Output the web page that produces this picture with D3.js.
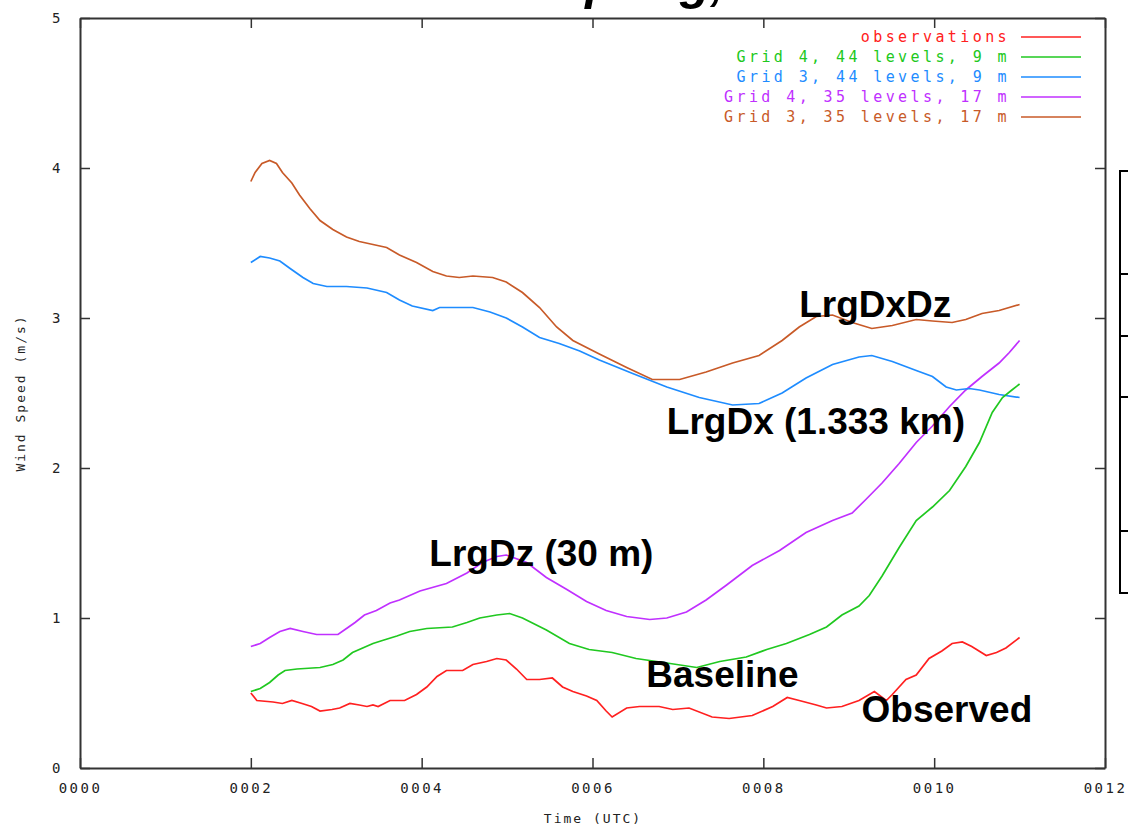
<!DOCTYPE html>
<html>
<head>
<meta charset="utf-8">
<script src="https://cdn.jsdelivr.net/npm/d3@7"></script>
<style>
body { margin: 0; background: #fff; }
.tick text { font-family: "DejaVu Sans Mono", monospace; font-size: 14px; letter-spacing: 2.5px; fill: #222; }
</style>
</head>
<body>
<div id="chart"></div>
<script>
// Data: [time, wind speed (m/s)]
var observations = [[2.00,0.50],[2.07,0.45],[2.26,0.44],[2.37,0.43],[2.48,0.45],[2.60,0.43],[2.71,0.41],[2.81,0.38],[2.95,0.39],[3.04,0.40],[3.16,0.43],[3.27,0.42],[3.36,0.41],[3.43,0.42],[3.49,0.41],[3.63,0.45],[3.80,0.45],[3.94,0.49],[4.06,0.54],[4.18,0.61],[4.29,0.65],[4.48,0.65],[4.60,0.69],[4.76,0.71],[4.88,0.73],[4.99,0.72],[5.11,0.66],[5.23,0.59],[5.38,0.59],[5.53,0.60],[5.65,0.54],[5.77,0.51],[5.93,0.48],[6.05,0.45],[6.16,0.38],[6.23,0.34],[6.40,0.40],[6.55,0.41],[6.78,0.41],[6.94,0.39],[7.13,0.40],[7.40,0.34],[7.60,0.33],[7.87,0.35],[8.11,0.41],[8.28,0.47],[8.42,0.45],[8.62,0.42],[8.74,0.40],[8.92,0.41],[9.12,0.45],[9.30,0.51],[9.44,0.45],[9.51,0.49],[9.67,0.59],[9.79,0.62],[9.94,0.73],[10.09,0.78],[10.21,0.83],[10.33,0.84],[10.44,0.81],[10.61,0.75],[10.73,0.77],[10.84,0.80],[11.00,0.87]];
var grid4L44 = [[2.00,0.51],[2.11,0.53],[2.22,0.57],[2.32,0.62],[2.40,0.65],[2.54,0.66],[2.81,0.67],[2.96,0.69],[3.08,0.72],[3.19,0.77],[3.31,0.80],[3.43,0.83],[3.54,0.85],[3.71,0.88],[3.86,0.91],[4.06,0.93],[4.36,0.94],[4.53,0.97],[4.68,1.00],[4.88,1.02],[5.03,1.03],[5.18,1.00],[5.46,0.92],[5.73,0.83],[5.96,0.79],[6.23,0.77],[6.51,0.73],[6.87,0.70],[7.22,0.67],[7.49,0.71],[7.80,0.74],[8.04,0.79],[8.27,0.83],[8.54,0.89],[8.74,0.94],[8.92,1.02],[9.12,1.08],[9.24,1.15],[9.39,1.28],[9.59,1.47],[9.79,1.65],[9.98,1.74],[10.18,1.85],[10.37,2.01],[10.53,2.17],[10.68,2.37],[10.80,2.47],[10.91,2.52],[11.00,2.56]];
var grid3L44 = [[2.00,3.37],[2.11,3.41],[2.22,3.40],[2.34,3.38],[2.46,3.33],[2.61,3.27],[2.73,3.23],[2.89,3.21],[3.12,3.21],[3.36,3.20],[3.59,3.17],[3.74,3.12],[3.89,3.08],[4.13,3.05],[4.21,3.07],[4.60,3.07],[4.80,3.04],[4.99,3.00],[5.18,2.94],[5.38,2.87],[5.61,2.83],[5.85,2.78],[6.08,2.72],[6.47,2.63],[6.87,2.54],[7.25,2.47],[7.64,2.42],[7.95,2.43],[8.22,2.50],[8.50,2.60],[8.81,2.69],[9.12,2.74],[9.27,2.75],[9.51,2.71],[9.79,2.65],[9.98,2.61],[10.14,2.54],[10.26,2.52],[10.41,2.53],[10.53,2.52],[10.76,2.49],[11.00,2.47]];
var grid4L35 = [[2.00,0.81],[2.11,0.83],[2.22,0.87],[2.34,0.91],[2.46,0.93],[2.61,0.91],[2.77,0.89],[3.02,0.89],[3.12,0.93],[3.22,0.97],[3.33,1.02],[3.47,1.05],[3.63,1.10],[3.74,1.12],[3.98,1.18],[4.29,1.23],[4.53,1.30],[4.71,1.37],[4.88,1.41],[4.99,1.42],[5.23,1.37],[5.46,1.27],[5.70,1.19],[5.93,1.11],[6.16,1.05],[6.40,1.01],[6.67,0.99],[6.87,1.00],[7.10,1.04],[7.33,1.12],[7.57,1.22],[7.87,1.35],[8.19,1.45],[8.50,1.57],[8.81,1.65],[9.04,1.70],[9.20,1.79],[9.39,1.90],[9.59,2.03],[9.79,2.17],[9.98,2.28],[10.18,2.41],[10.37,2.52],[10.56,2.61],[10.76,2.70],[10.88,2.77],[11.00,2.85]];
var grid3L35 = [[2.00,3.91],[2.05,3.97],[2.13,4.03],[2.22,4.05],[2.30,4.03],[2.37,3.97],[2.48,3.90],[2.57,3.82],[2.69,3.73],[2.81,3.65],[2.96,3.59],[3.12,3.54],[3.27,3.51],[3.43,3.49],[3.59,3.47],[3.74,3.42],[3.94,3.37],[4.13,3.31],[4.29,3.28],[4.44,3.27],[4.60,3.28],[4.83,3.27],[4.99,3.24],[5.18,3.17],[5.38,3.07],[5.58,2.94],[5.77,2.85],[6.08,2.76],[6.40,2.67],[6.70,2.59],[7.02,2.59],[7.33,2.64],[7.64,2.70],[7.95,2.75],[8.22,2.85],[8.42,2.94],[8.62,3.01],[8.81,3.02],[9.04,2.97],[9.27,2.93],[9.51,2.95],[9.79,2.99],[9.98,2.98],[10.21,2.97],[10.37,2.99],[10.56,3.03],[10.76,3.05],[11.00,3.09]];

var seriesNames = ["observations", "Grid 4, 44 levels, 9 m", "Grid 3, 44 levels, 9 m", "Grid 4, 35 levels, 17 m", "Grid 3, 35 levels, 17 m"];
var seriesData = [observations, grid4L44, grid3L44, grid4L35, grid3L35];
var seriesColors = ["#ff2020", "#20c820", "#1e8cff", "#c030ff", "#c85a28"];

var xTicks = [0, 2, 4, 6, 8, 10, 12];
var yTicks = [0, 1, 2, 3, 4, 5];

var labelText = ["LrgDxDz", "LrgDx (1.333 km)", "LrgDz (30 m)", "Baseline", "Observed"];
var labelTime = [8.42, 6.87, 4.09, 6.63, 9.15];
var labelSpeed = [3.01, 2.23, 1.35, 0.54, 0.31];

var svg = d3.select("#chart")
	.append("svg")
	.attr("width", 1128)
	.attr("height", 825);

var x = d3.scaleLinear().domain([0, 12]).range([80, 1105]);
var y = d3.scaleLinear().domain([0, 5]).range([768, 18]);

// Title, cut off at the top of the picture as in the original.
svg.append("text")
	.attr("x", 552)
	.attr("y", -1)
	.style("font-family", "Liberation Sans, Arial, sans-serif")
	.style("font-weight", "bold")
	.style("font-style", "italic")
	.style("font-size", "50px")
	.text("Spring,");

// Partial table at the right edge.
svg.append("rect")
	.attr("x", 1120).attr("y", 171)
	.attr("width", 30).attr("height", 422)
	.style("fill", "none").style("stroke", "#000").style("stroke-width", 2);
[274, 336, 397, 531].forEach(function (ry) {
	svg.append("line")
		.attr("x1", 1120).attr("x2", 1128)
		.attr("y1", ry).attr("y2", ry)
		.style("stroke", "#000").style("stroke-width", 2);
});

// Axes.
svg.append("g")
	.attr("transform", "translate(0,768)")
	.call(d3.axisBottom(x).tickValues(xTicks).tickFormat(d3.format("04d")).tickSizeInner(-10).tickSizeOuter(0).tickPadding(15));
svg.append("g")
	.attr("transform", "translate(0,18)")
	.call(d3.axisTop(x).tickValues(xTicks).tickFormat("").tickSizeInner(-10).tickSizeOuter(0));
svg.append("g")
	.attr("transform", "translate(80,0)")
	.call(d3.axisLeft(y).tickValues(yTicks).tickFormat(d3.format("d")).tickSizeInner(-10).tickSizeOuter(0).tickPadding(17));
svg.append("g")
	.attr("transform", "translate(1105,0)")
	.call(d3.axisRight(y).tickValues(yTicks).tickFormat("").tickSizeInner(-10).tickSizeOuter(0));

svg.selectAll(".domain").style("stroke", "#333").style("stroke-width", 2);
svg.selectAll(".tick line").style("stroke", "#333").style("stroke-width", 1.5);

// Axis titles.
svg.append("text")
	.attr("x", 593).attr("y", 823)
	.attr("text-anchor", "middle")
	.style("font-family", "DejaVu Sans Mono, monospace")
	.style("font-size", "13px")
	.style("letter-spacing", "2px")
	.style("fill", "#222")
	.text("Time (UTC)");
svg.append("text")
	.attr("transform", "translate(25,393) rotate(-90)")
	.attr("text-anchor", "middle")
	.style("font-family", "DejaVu Sans Mono, monospace")
	.style("font-size", "13px")
	.style("letter-spacing", "2px")
	.style("fill", "#222")
	.text("Wind Speed (m/s)");

// Lines.
var line = d3.line()
	.x(function (d) { return x(d[0]); })
	.y(function (d) { return y(d[1]); });

for (var i = seriesData.length - 1; i >= 0; --i)
{
	svg.append("path")
		.datum(seriesData[i])
		.attr("d", line)
		.style("fill", "none")
		.style("stroke", seriesColors[i])
		.style("stroke-width", 1.7);
}

// Legend.
for (var j = 0; j < seriesNames.length; ++j)
{
	var ly = 37 + j * 20;
	svg.append("text")
		.attr("x", 1010).attr("y", ly + 5)
		.attr("text-anchor", "end")
		.style("font-family", "DejaVu Sans Mono, monospace")
		.style("font-size", "15px")
		.style("letter-spacing", "3.4px")
		.style("fill", seriesColors[j])
		.text(seriesNames[j]);
	svg.append("line")
		.attr("x1", 1021).attr("x2", 1081)
		.attr("y1", ly).attr("y2", ly)
		.style("stroke", seriesColors[j])
		.style("stroke-width", 1.7);
}

// Annotations.
for (var k = 0; k < labelText.length; ++k)
{
	svg.append("text")
		.attr("x", x(labelTime[k]))
		.attr("y", y(labelSpeed[k]))
		.style("font-family", "Liberation Sans, Arial, sans-serif")
		.style("font-weight", "bold")
		.style("font-size", "37px")
		.style("fill", "#000")
		.text(labelText[k]);
}
</script>
</body>
</html>
